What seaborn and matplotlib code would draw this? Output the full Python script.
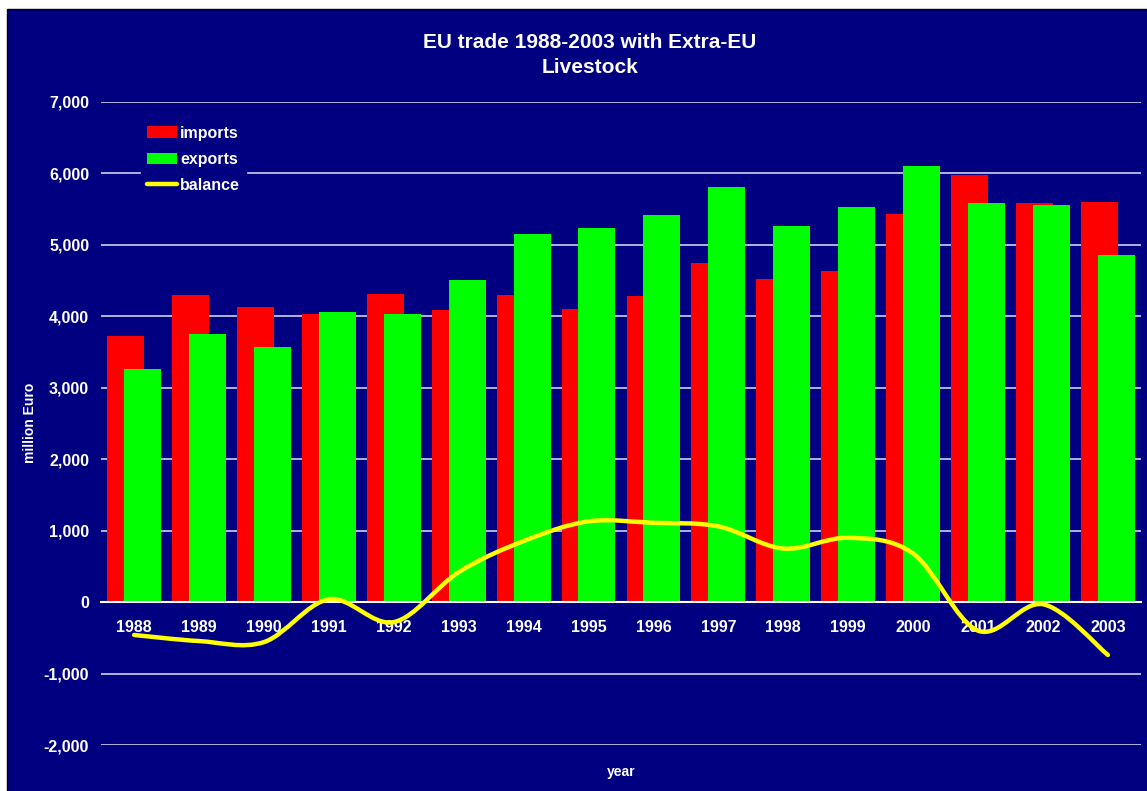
import numpy as np
import pandas as pd
import matplotlib
matplotlib.use("Agg")
import matplotlib.pyplot as plt
import seaborn as sns
from matplotlib.patches import Rectangle, Patch, PathPatch
from matplotlib.path import Path
from matplotlib.lines import Line2D
from matplotlib.ticker import FuncFormatter

# ---------------------------------------------------------------
# DATA (million Euro)
# ---------------------------------------------------------------
years = [1988, 1989, 1990, 1991, 1992, 1993, 1994, 1995,
         1996, 1997, 1998, 1999, 2000, 2001, 2002, 2003]
imports = [3720, 4300, 4130, 4030, 4310, 4090, 4300, 4100,
           4285, 4745, 4520, 4635, 5430, 5980, 5585, 5600]
exports = [3260, 3750, 3570, 4060, 4030, 4510, 5150, 5235,
           5415, 5810, 5265, 5530, 6105, 5585, 5560, 4860]
balance = [-460, -545, -560, 40, -280, 420, 855, 1130,
           1110, 1060, 750, 900, 680, -400, -30, -740]

NAVY = "#000080"

# ---------------------------------------------------------------
# STYLE
# ---------------------------------------------------------------
sns.set_style("dark")
plt.rcParams["font.family"] = ["Liberation Sans", "DejaVu Sans"]
plt.rcParams["font.weight"] = "bold"

fig = plt.figure(figsize=(11.47, 7.91), dpi=100, facecolor="white")
fig.patches.append(Rectangle((7 / 1147, -0.01), 1.0, 1 - 9 / 791 + 0.01,
                             transform=fig.transFigure, facecolor=NAVY,
                             edgecolor="black", linewidth=1, zorder=-1))

ax = fig.add_axes([101 / 1147, 1 - 745 / 791, 1040 / 1147, 643 / 791])
ax.set_zorder(1)
ax.set_facecolor(NAVY)

# ---------------------------------------------------------------
# BARS (exports overlap imports)
# ---------------------------------------------------------------
df = pd.DataFrame({"year": years, "imports": imports, "exports": exports})
offset = 0.13
sns.barplot(x=df["year"] - offset, y=df["imports"], native_scale=True,
            width=0.57, color="#FF0000", saturation=1, linewidth=0,
            ax=ax, zorder=2)
sns.barplot(x=df["year"] + offset, y=df["exports"], native_scale=True,
            width=0.57, color="#00FF00", saturation=1, linewidth=0,
            ax=ax, zorder=3)

# ---------------------------------------------------------------
# BALANCE LINE (smoothed, Catmull-Rom style like the spreadsheet)
# ---------------------------------------------------------------
pts = np.column_stack([years, balance]).astype(float)
ext = np.vstack([pts[0], pts, pts[-1]])
verts = [tuple(pts[0])]
codes = [Path.MOVETO]
for i in range(len(pts) - 1):
    p0, p1, p2, p3 = ext[i], ext[i + 1], ext[i + 2], ext[i + 3]
    c1 = p1 + (p2 - p0) / 6
    c2 = p2 - (p3 - p1) / 6
    verts += [tuple(c1), tuple(c2), tuple(p2)]
    codes += [Path.CURVE4] * 3
ax.add_patch(PathPatch(Path(verts, codes), facecolor="none",
                       edgecolor="#FFFF00", linewidth=3.2,
                       capstyle="round", zorder=5))

# ---------------------------------------------------------------
# AXES
# ---------------------------------------------------------------
ax.set_xlim(1987.49, 2003.51)
ax.set_ylim(-2000, 7000)
ax.set_yticks(range(-2000, 7001, 1000))
ax.yaxis.set_major_formatter(FuncFormatter(lambda v, p: f"{int(v):,}"))
ax.set_xticks(years)
ax.set_xticklabels([str(y) for y in years])
ax.grid(axis="y", color="#d0d0ea", linewidth=1.2, zorder=0)
ax.grid(axis="x", visible=False)
ax.set_axisbelow(True)
for s in ["left", "right", "top"]:
    ax.spines[s].set_visible(False)
ax.spines["bottom"].set_position(("data", 0))
ax.spines["bottom"].set_color("white")
ax.spines["bottom"].set_linewidth(1.5)
ax.spines["bottom"].set_zorder(4)
ax.tick_params(axis="y", length=0, pad=8.5, labelsize=11.5,
               labelcolor="white")
ax.tick_params(axis="x", length=0, pad=13, labelsize=11.5,
               labelcolor="white")
ax.set_xlabel("")
ax.set_ylabel("")

fig.text(590 / 1147, 1 - 55 / 791, "EU trade 1988-2003 with Extra-EU\nLivestock",
         ha="center", va="center", color="white", fontsize=15,
         fontweight="bold", linespacing=1.45)
fig.text(30 / 1147, 1 - 423 / 791, "million Euro", rotation=90,
         ha="center", va="center", color="white", fontsize=10,
         fontweight="bold")
fig.text(621 / 1147, 1 - 772 / 791, "year", ha="center", va="center",
         color="white", fontsize=10, fontweight="bold")

# ---------------------------------------------------------------
# LEGEND
# ---------------------------------------------------------------
handles = [Patch(facecolor="#FF0000", edgecolor="none", label="imports"),
           Patch(facecolor="#00FF00", edgecolor="none", label="exports"),
           Line2D([], [], color="#FFFF00", linewidth=3.2, label="balance")]
leg = ax.legend(handles=handles, loc="upper left",
                bbox_to_anchor=(141 / 1147, 1 - 120 / 791),
                bbox_transform=fig.transFigure, frameon=True,
                facecolor=NAVY, edgecolor=NAVY, framealpha=1,
                fontsize=11.5, handlelength=1.9, handleheight=0.7,
                handletextpad=0.2, labelspacing=0.7, borderpad=0.35,
                borderaxespad=0, fancybox=False)
for t in leg.get_texts():
    t.set_color("white")
    t.set_fontweight("bold")
leg.set_zorder(6)

fig.savefig("out.png", dpi=100, facecolor=fig.get_facecolor())
